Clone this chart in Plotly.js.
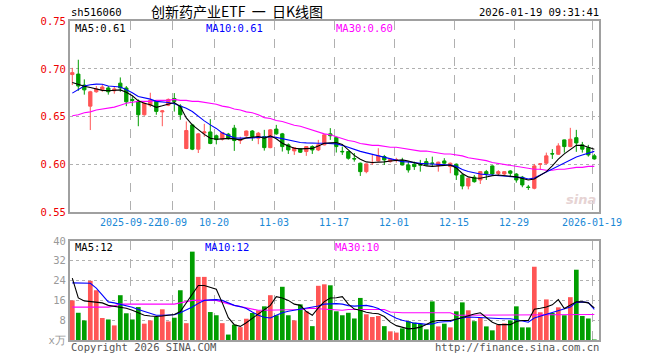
<!DOCTYPE html>
<html><head><meta charset="utf-8">
<script src="https://cdn.plot.ly/plotly-3.0.1.min.js"></script>
<style>html,body{margin:0;padding:0;background:#fff;}#chart{width:660px;height:360px;}</style>
</head><body><div id="chart"></div>
<script>
// ---- data (trading days 2025-09-08 .. 2026-01-19, index 0..87) ----
const open  = [0.694,0.6945,0.683,0.661,0.676,0.678,0.680,0.677,0.685,0.680,
 0.668,0.666,0.652,0.662,0.6665,0.655,0.662,0.669,0.661,0.6167,
 0.6414,0.616,0.633,0.634,0.630,0.6265,0.6317,0.638,0.625,0.630,
 0.635,0.6275,0.6292,0.6176,0.637,0.632,0.6205,0.6142,0.6163,0.6135,
 0.6187,0.6152,0.6205,0.632,0.628,0.6137,0.6135,0.6062,0.6013,0.5925,
 0.6018,0.6037,0.6083,0.6030,0.6045,0.604,0.5995,0.6003,0.5997,0.603,
 0.6015,0.5988,0.6037,0.5978,0.6003,0.589,0.5775,0.5867,0.5838,0.5925,
 0.5985,0.5905,0.590,0.5932,0.590,0.5867,0.5764,0.5751,0.6003,0.6013,
 0.6113,0.6107,0.6257,0.6187,0.628,0.6205,0.6176,0.609];
const high  = [0.701,0.7095,0.689,0.677,0.682,0.684,0.682,0.681,0.691,0.682,
 0.671,0.668,0.665,0.675,0.667,0.657,0.669,0.6746,0.663,0.645,
 0.6425,0.633,0.6425,0.6474,0.6313,0.634,0.633,0.6414,0.629,0.6355,
 0.636,0.634,0.6362,0.637,0.6414,0.633,0.622,0.618,0.617,0.619,
 0.620,0.6257,0.632,0.638,0.629,0.6187,0.614,0.612,0.602,0.601,
 0.610,0.617,0.610,0.606,0.607,0.607,0.603,0.603,0.6048,0.6066,
 0.6082,0.603,0.6066,0.602,0.601,0.590,0.586,0.589,0.593,0.5943,
 0.599,0.594,0.593,0.594,0.591,0.588,0.5786,0.6006,0.601,0.6124,
 0.616,0.6222,0.626,0.6383,0.6362,0.6236,0.6205,0.611];
const low   = [0.683,0.677,0.673,0.636,0.675,0.676,0.673,0.674,0.676,0.661,
 0.661,0.640,0.651,0.660,0.652,0.640,0.661,0.6553,0.6467,0.616,
 0.615,0.612,0.629,0.6212,0.621,0.625,0.626,0.6142,0.6215,0.629,
 0.6247,0.6212,0.6145,0.617,0.631,0.6135,0.611,0.610,0.612,0.609,
 0.611,0.614,0.620,0.6257,0.6125,0.610,0.605,0.603,0.588,0.5908,
 0.5995,0.603,0.5995,0.602,0.602,0.599,0.5915,0.5943,0.5925,0.599,
 0.5977,0.5925,0.600,0.5908,0.5838,0.574,0.574,0.581,0.5796,0.5838,
 0.588,0.589,0.589,0.5873,0.581,0.5762,0.5734,0.574,0.5943,0.600,
 0.6058,0.610,0.6124,0.618,0.6132,0.6124,0.6082,0.605];
const close = [0.696,0.682,0.678,0.676,0.679,0.681,0.676,0.679,0.680,0.6655,
 0.667,0.652,0.664,0.667,0.6555,0.656,0.668,0.666,0.652,0.6355,
 0.616,0.632,0.634,0.622,0.626,0.6334,0.6271,0.625,0.626,0.635,
 0.6292,0.6327,0.6176,0.6362,0.632,0.6187,0.6152,0.6176,0.6128,0.6187,
 0.6152,0.6205,0.631,0.630,0.6187,0.6133,0.6065,0.6058,0.5925,0.6006,
 0.602,0.609,0.6048,0.6055,0.605,0.5995,0.5943,0.5978,0.5994,0.5995,
 0.6012,0.6024,0.6013,0.6013,0.589,0.5775,0.5856,0.582,0.5925,0.590,
 0.590,0.5925,0.5925,0.5908,0.5838,0.5786,0.576,0.5985,0.6006,0.609,
 0.611,0.6194,0.6187,0.6264,0.6225,0.616,0.610,0.6058];
const ma5  = [0.6857,0.6833,0.6817,0.6805,0.6786,0.6775,0.677,0.6775,0.678,0.6754,
 0.6718,0.6665,0.6639,0.6624,0.6597,0.6613,0.6634,0.6648,0.6606,0.6487,
 0.6414,0.6362,0.6315,0.6275,0.6263,0.6268,0.6273,0.6268,0.6257,0.6278,
 0.6288,0.6292,0.6275,0.6299,0.6268,0.6222,0.6194,0.617,0.6163,0.6163,
 0.6168,0.6194,0.6222,0.6226,0.6229,0.621,0.6147,0.6095,0.6055,0.6027,
 0.602,0.602,0.6027,0.6037,0.6045,0.6048,0.6037,0.6016,0.6003,0.5985,
 0.598,0.5985,0.599,0.5995,0.5964,0.5906,0.587,0.5859,0.5856,0.587,
 0.5883,0.589,0.5885,0.588,0.587,0.5854,0.5838,0.5849,0.589,0.5925,
 0.5985,0.6055,0.6111,0.6152,0.62,0.62,0.6178,0.616];
const ma10 = [0.6746,0.678,0.682,0.6833,0.684,0.6838,0.682,0.6815,0.681,0.678,
 0.675,0.671,0.6697,0.6683,0.666,0.6655,0.6648,0.6634,0.6613,0.6587,
 0.6553,0.65,0.6456,0.6414,0.6377,0.633,0.63,0.6278,0.6275,0.6275,
 0.6278,0.6283,0.6288,0.629,0.6283,0.6268,0.6252,0.624,0.623,0.6226,
 0.6222,0.6222,0.6222,0.6218,0.6215,0.62,0.6178,0.6158,0.6137,0.6121,
 0.6105,0.609,0.6074,0.6058,0.6042,0.603,0.6027,0.6016,0.6011,0.6008,
 0.6006,0.6003,0.5999,0.5995,0.598,0.5948,0.5927,0.5911,0.5901,0.5894,
 0.589,0.5887,0.5883,0.588,0.5875,0.5864,0.5849,0.5859,0.589,0.5922,
 0.5948,0.598,0.6016,0.6048,0.6079,0.61,0.6121,0.6137];
const ma30 = [0.651,0.652,0.654,0.655,0.657,0.658,0.659,0.660,0.662,0.664,
 0.665,0.666,0.666,0.666,0.667,0.667,0.667,0.668,0.667,0.667,
 0.666,0.666,0.665,0.664,0.663,0.661,0.660,0.658,0.657,0.655,
 0.654,0.652,0.649,0.648,0.646,0.645,0.643,0.641,0.640,0.638,
 0.636,0.634,0.632,0.631,0.629,0.627,0.625,0.624,0.622,0.621,
 0.620,0.620,0.619,0.618,0.618,0.617,0.616,0.615,0.614,0.614,
 0.613,0.612,0.611,0.611,0.610,0.609,0.607,0.606,0.605,0.604,
 0.602,0.601,0.600,0.599,0.598,0.597,0.596,0.595,0.595,0.594,
 0.594,0.595,0.595,0.596,0.597,0.597,0.598,0.598];
const volume = [16.0,11.0,7.9,23.9,20.1,8.9,8.3,5.9,18.1,10.8,
 8.3,13.3,6.6,7.9,9.3,12.4,7.5,9.0,20.1,6.8,
 35.7,25.5,25.5,11.3,10.0,6.8,2.2,6.2,5.2,8.6,
 10.9,12.0,13.6,18.1,10.0,21.5,10.0,7.9,14.4,11.6,
 5.6,21.9,22.5,22.1,11.6,10.0,11.0,8.7,17.0,10.4,
 9.3,9.7,5.6,3.5,3.0,4.7,7.6,7.0,6.6,4.3,
 15.6,5.5,6.6,5.1,11.6,15.2,12.0,7.6,8.9,5.5,
 3.9,6.2,6.7,7.9,13.6,5.1,5.1,29.6,11.2,16.4,
 10.9,13.2,10.0,17.3,28.4,9.7,8.7,0.2];
const vma5 = [25,17,15.8,15.6,15.4,15.0,14.0,13.6,13.3,12.8,
 12.0,11.0,10.0,9.7,9.5,9.7,10.0,10.3,11.5,15,
 19,22,22,21.2,20.5,15,9,6.2,5.5,7.0,
 8.8,10.6,12.5,14.0,17.5,17,16,14.5,14.0,11.5,
 10.0,13,15.5,17.0,17.1,17.5,14.5,12.5,12.0,11.2,
 10.8,10.6,9.5,7.2,5.8,5.0,4.5,4.7,5.2,6.3,
 7.5,7.9,7.9,7.9,8.4,9.2,9.8,10.5,11.0,9.0,
 7.2,6.2,6.2,6.2,7.5,7.9,7.9,12.4,12.8,13.3,
 14.2,16.3,12.7,14.0,15.4,15.4,15.0,13.0];
const vma10 = [23.1,23.1,23.1,22.9,21,18,15.4,15,14.5,14.0,
 13.2,12.3,11.5,10.8,10.0,10.0,10.1,10.2,11,12.0,
 13.3,14.8,16.0,16.2,16.3,16.0,15.0,14.0,13.5,12.7,
 11.3,10.0,9.2,8.9,10.0,11.0,11.6,12.0,12.2,12.7,
 13.2,13.7,14.5,14.7,14.7,14.5,13.9,13.7,13.8,14.0,
 13.5,12.7,11.3,10.0,8.8,8.0,7.3,6.8,6.6,6.3,
 6.5,7.2,7.4,7.5,8.5,9.0,9.3,9.2,9.0,8.9,
 8.8,8.7,8.6,8.6,8.2,7.6,7.2,8.9,9.6,10.3,
 11.2,12.0,12.6,13.3,15.2,15.4,15.1,12.4];
const vma30 = [13.3,13.3,13.3,13.3,13.3,13.3,13.3,13.8,14.5,14.5,
 14.5,14.5,14.5,14.5,14.5,14.5,14.5,14.5,15.0,15.5,
 16.0,16.0,16.0,16.0,16.0,15.3,14.5,14.0,13.5,13.0,
 12.7,12.0,12.0,12.0,12.0,12.0,12.0,12.0,12.3,12.6,
 12.8,12.6,12.4,12.2,12.0,12.0,12.3,12.3,12.3,12.3,
 12.3,12.3,12.3,11.3,11.0,11.0,11.0,11.0,11.0,11.0,
 11.0,11.0,11.0,11.0,10.0,10.0,10.0,10.0,10.0,10.0,
 10.0,10.0,10.0,10.0,10.0,10.0,10.0,10.3,10.3,10.3,
 10.3,10.3,10.3,10.3,10.3,10.3,10.3,10.3];
const tickIdx    = [10,17,24,34,44,54,64,74,87];
const tickLabels = ['2025-09-22','10-09','10-20','11-03','11-17','12-01','12-15','12-29','2026-01-19'];
const priceTicks = [0.55,0.60,0.65,0.70,0.75];
const volTicks   = [0,8,16,24,32,40];
const volTickText= ['x万','8','16','24','32','40'];

// ---- drawing ----
const idx = open.map((_,i)=>i);
const RED='#ff5555', GREEN='#009e00';
const MONO='DejaVu Sans Mono';
const volColors = idx.map(i => close[i] >= open[i] ? RED : GREEN);
const L=70,R=599,T=21,B=340;
const px = x => (x-L)/(R-L), py = y => (B-y)/(B-T);
const gridX = tickIdx.map(v=>v-0.38);

const traces = [
 {type:'candlestick', x:idx, open:open, high:high, low:low, close:close,
  xaxis:'x', yaxis:'y', whiskerwidth:0, line:{width:1},
  increasing:{line:{color:RED,width:1}, fillcolor:RED},
  decreasing:{line:{color:GREEN,width:1}, fillcolor:GREEN}, hoverinfo:'skip'},
 {type:'scatter', mode:'lines', x:idx, y:ma30, line:{color:'#ff00ff',width:1.1}, xaxis:'x', yaxis:'y'},
 {type:'scatter', mode:'lines', x:idx, y:ma10, line:{color:'#0000ff',width:1.1}, xaxis:'x', yaxis:'y'},
 {type:'scatter', mode:'lines', x:idx, y:ma5,  line:{color:'#000000',width:1.1}, xaxis:'x', yaxis:'y'},
 {type:'bar', x:idx, y:volume, marker:{color:volColors, line:{width:0}}, xaxis:'x2', yaxis:'y2'},
 {type:'scatter', mode:'lines', x:idx, y:vma30, line:{color:'#ff00ff',width:1.1}, xaxis:'x2', yaxis:'y2'},
 {type:'scatter', mode:'lines', x:idx, y:vma10, line:{color:'#0000ff',width:1.1}, xaxis:'x2', yaxis:'y2'},
 {type:'scatter', mode:'lines', x:idx, y:vma5,  line:{color:'#000000',width:1.1}, xaxis:'x2', yaxis:'y2'}
];

const xCommon = {range:[-0.383, 87.78], tickvals:gridX, showgrid:true, gridcolor:'#b0b0b0', griddash:'dash',
  gridwidth:1, zeroline:false, showline:true, mirror:true, linecolor:'#a0a0a0', linewidth:2, ticks:'',
  tickangle:0, rangeslider:{visible:false}, fixedrange:true};
const layout = {
 width:660, height:360, margin:{l:L, r:660-R, t:T, b:360-B}, paper_bgcolor:'#fff', plot_bgcolor:'#fff',
 showlegend:false, bargap:0.22, boxgap:0.22, hovermode:false,
 xaxis:Object.assign({}, xCommon, {anchor:'y', ticktext:tickLabels,
   tickfont:{family:MONO, size:10, color:'#1a88d6'}}),
 xaxis2:Object.assign({}, xCommon, {anchor:'y2', matches:'x', showticklabels:false}),
 yaxis:{domain:[py(212.3),1], range:[0.55,0.75], tickvals:priceTicks, ticktext:priceTicks.map(v=>v.toFixed(2)),
   showgrid:true, gridcolor:'#b0b0b0', griddash:'dot', gridwidth:1, zeroline:false, showline:true, mirror:true,
   linecolor:'#a0a0a0', linewidth:2, ticks:'', tickfont:{family:MONO, size:10.5, color:'#ee0000'}, fixedrange:true},
 yaxis2:{domain:[0,py(241)], range:[0,40], tickvals:volTicks, ticktext:volTickText,
   showgrid:true, gridcolor:'#b0b0b0', griddash:'dot', gridwidth:1, zeroline:false, showline:true, mirror:true,
   linecolor:'#a0a0a0', linewidth:2, ticks:'', tickfont:{family:MONO, size:10.5, color:'#999999'}, fixedrange:true},
 annotations:[
  {text:'sh516060', x:px(70), y:py(12), xanchor:'left'},
  {text:'创新药产业ETF\u00a0\u00a0一\u00a0\u00a0日K线图', x:px(150), y:py(11), xanchor:'left',
   font:{family:'Noto Sans CJK SC', size:14, color:'#000'}},
  {text:'2026-01-19 09:31:41', x:px(600), y:py(12), xanchor:'right'},
  {text:'MA5:0.61', x:px(74), y:py(28), xanchor:'left'},
  {text:'MA10:0.61', x:px(205), y:py(28), xanchor:'left', font:{family:MONO,size:10.5,color:'#0000ff'}},
  {text:'MA30:0.60', x:px(335), y:py(28), xanchor:'left', font:{family:MONO,size:10.5,color:'#ff00ff'}},
  {text:'MA5:12', x:px(74), y:py(247), xanchor:'left'},
  {text:'MA10:12', x:px(204), y:py(247), xanchor:'left', font:{family:MONO,size:10.5,color:'#0000ff'}},
  {text:'MA30:10', x:px(334), y:py(247), xanchor:'left', font:{family:MONO,size:10.5,color:'#ff00ff'}},
  {text:'Copyright 2026 SINA.COM', x:px(70), y:py(347), xanchor:'left', font:{family:MONO,size:10.5,color:'#555'}},
  {text:'http://finance.sina.com.cn', x:px(600), y:py(347), xanchor:'right', font:{family:MONO,size:10.5,color:'#555'}},
  {text:'<b><i>sina</i></b>', x:px(597), y:py(200), xanchor:'right', font:{family:'DejaVu Sans',size:13,color:'#e6d3d3'}}
 ].map(a => Object.assign({xref:'paper', yref:'paper', yanchor:'middle', showarrow:false, borderpad:0,
   font:{family:MONO, size:10.5, color:'#000'}}, a))
};
Plotly.newPlot('chart', traces, layout, {staticPlot:true, displayModeBar:false});
</script></body></html>
